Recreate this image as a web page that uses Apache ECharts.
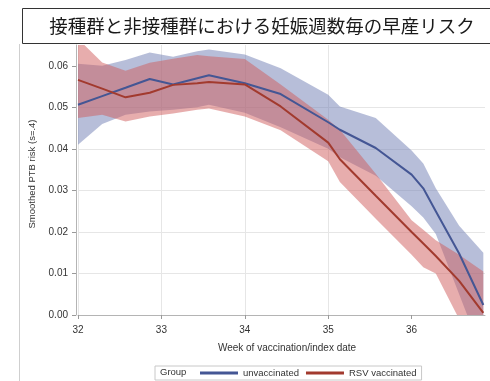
<!DOCTYPE html>
<html>
<head>
<meta charset="utf-8">
<script src="https://cdn.jsdelivr.net/npm/echarts@6/dist/echarts.min.js"></script>
<style>html,body{margin:0;padding:0;background:#fff}#c{width:490px;height:381px}</style>
</head>
<body>
<div id="c"></div>
<script>
// ---- data (weeks of vaccination / index date) ----
const weeks        = [32, 32.29, 32.57, 32.86, 33.14, 33.43, 33.57, 34.0, 34.43, 35.0, 35.14, 35.57, 36.0, 36.14, 36.29, 36.57, 36.86];
const unvacRisk    = [0.0506, 0.0527, 0.0547, 0.0568, 0.0555, 0.0570, 0.0577, 0.0558, 0.0532, 0.0464, 0.0446, 0.0402, 0.0338, 0.0305, 0.0250, 0.0148, 0.0024];
const unvacUpper   = [0.0605, 0.0600, 0.0614, 0.0632, 0.0622, 0.0635, 0.0639, 0.0627, 0.0594, 0.0530, 0.0502, 0.0474, 0.0396, 0.0365, 0.0305, 0.0215, 0.0150];
const unvacLower   = [0.0410, 0.0460, 0.0482, 0.0490, 0.0494, 0.0500, 0.0506, 0.0487, 0.0452, 0.0400, 0.0380, 0.0335, 0.0262, 0.0235, 0.0195, 0.0050, -0.0100];
const rsvRisk      = [0.0566, 0.0545, 0.0524, 0.0535, 0.0554, 0.0558, 0.0561, 0.0555, 0.0502, 0.0415, 0.0375, 0.0287, 0.0200, 0.0172, 0.0142, 0.0082, 0.0005];
const rsvUpper     = [0.0665, 0.0608, 0.0588, 0.0607, 0.0617, 0.0626, 0.0623, 0.0616, 0.0555, 0.0470, 0.0446, 0.0340, 0.0228, 0.0205, 0.0180, 0.0145, 0.0105];
const rsvLower     = [0.0474, 0.0482, 0.0466, 0.0478, 0.0485, 0.0494, 0.0497, 0.0478, 0.0445, 0.0370, 0.0320, 0.0232, 0.0145, 0.0115, 0.0100, -0.0010, -0.0100];
const xTicks = [32, 33, 34, 35, 36];
const yTicks = [0, 0.01, 0.02, 0.03, 0.04, 0.05, 0.06];
const seriesNames = ['unvaccinated', 'RSV vaccinated'];
const titleText = '接種群と非接種群における妊娠週数毎の早産リスク';
const xName = 'Week of vaccination/index date';
const yName = 'Smoothed PTB risk (s=.4)';
const legendTitle = 'Group';

const pairs = arr => arr.map((v, i) => [weeks[i], v]);

const blue = '#445694', red = '#A23A2E';
const blueFill = 'rgba(111,126,179,0.5)', redFill = 'rgba(208,91,91,0.5)';
const font = 'Liberation Sans, Arial, sans-serif';

function bandSeries(upper, lower, fill) {
  return {
    type: 'custom', silent: true,
    data: [0],
    renderItem: function (params, api) {
      const pts = [];
      for (let i = 0; i < weeks.length; i++) pts.push(api.coord([weeks[i], upper[i]]));
      for (let i = weeks.length - 1; i >= 0; i--) pts.push(api.coord([weeks[i], lower[i]]));
      const cs = params.coordSys;
      return {
        type: 'polygon', shape: {points: pts}, style: {fill: fill, stroke: null},
        clipPath: {type: 'rect', shape: {x: cs.x, y: cs.y, width: cs.width, height: cs.height}}
      };
    }
  };
}

const chart = echarts.init(document.getElementById('c'), null, {renderer: 'canvas'});
chart.setOption({
  animation: false,
  backgroundColor: '#fff',
  grid: {left: 78, right: 5, top: 45, bottom: 66, containLabel: false},
  xAxis: {
    type: 'value', min: 32, max: 36.88, interval: 1, offset: 3,
    axisLine: {show: true, lineStyle: {color: '#b4b4b4', width: 1}},
    axisTick: {show: true, length: 4, lineStyle: {color: '#999'}, customValues: xTicks},
    axisLabel: {color: '#333', fontSize: 10, fontFamily: font, margin: 7, customValues: xTicks},
    splitLine: {show: true, showMaxLine: false, lineStyle: {color: '#e6e6e6'}}
  },
  yAxis: {
    type: 'value', min: 0, max: 0.065, interval: 0.01, offset: 2,
    axisLine: {show: true, lineStyle: {color: '#b4b4b4', width: 1}},
    axisTick: {show: true, length: 4, lineStyle: {color: '#999'}, customValues: yTicks},
    axisLabel: {color: '#333', fontSize: 10, fontFamily: font, margin: 8, customValues: yTicks,
                formatter: v => v.toFixed(2)},
    splitLine: {show: true, showMaxLine: false, lineStyle: {color: '#e6e6e6'}}
  },
  legend: {
    data: seriesNames, left: 155, top: 366, orient: 'horizontal',
    padding: [2, 5, 2, 45], itemGap: 7, itemWidth: 38, itemHeight: 3, icon: 'rect',
    borderColor: '#c8c8c8', borderWidth: 1,
    textStyle: {color: '#333', fontSize: 9.5, fontFamily: font}
  },
  graphic: [
    {type: 'line', shape: {x1: 19.5, y1: 44, x2: 19.5, y2: 381}, style: {stroke: '#cfcfcf', lineWidth: 1}, z: 1},
    {type: 'rect', shape: {x: 22.5, y: 8.5, width: 480, height: 35}, style: {fill: '#fff', stroke: '#333', lineWidth: 1}, z: 100},
    {type: 'text', x: 262, y: 26, style: {text: titleText, fontSize: 18.5, fontFamily: 'Noto Sans CJK JP', fill: '#1a1a1a', align: 'center', verticalAlign: 'middle'}, z: 101},
    {type: 'text', x: 287, y: 348, style: {text: xName, fontSize: 10, fontFamily: font, fill: '#333', align: 'center', verticalAlign: 'middle'}},
    {type: 'text', x: 32, y: 174, rotation: Math.PI / 2, style: {text: yName, fontSize: 9.5, fontFamily: font, fill: '#333', align: 'center', verticalAlign: 'middle'}},
    {type: 'text', x: 160, y: 372.5, style: {text: legendTitle, fontSize: 9.5, fontFamily: font, fill: '#333', align: 'left', verticalAlign: 'middle'}, z: 10}
  ],
  series: [
    bandSeries(unvacUpper, unvacLower, blueFill),
    {name: seriesNames[0], type: 'line', data: pairs(unvacRisk), showSymbol: false, color: blue, lineStyle: {color: blue, width: 2}},
    bandSeries(rsvUpper, rsvLower, redFill),
    {name: seriesNames[1], type: 'line', data: pairs(rsvRisk), showSymbol: false, color: red, lineStyle: {color: red, width: 2}}
  ]
});
</script>
</body>
</html>
